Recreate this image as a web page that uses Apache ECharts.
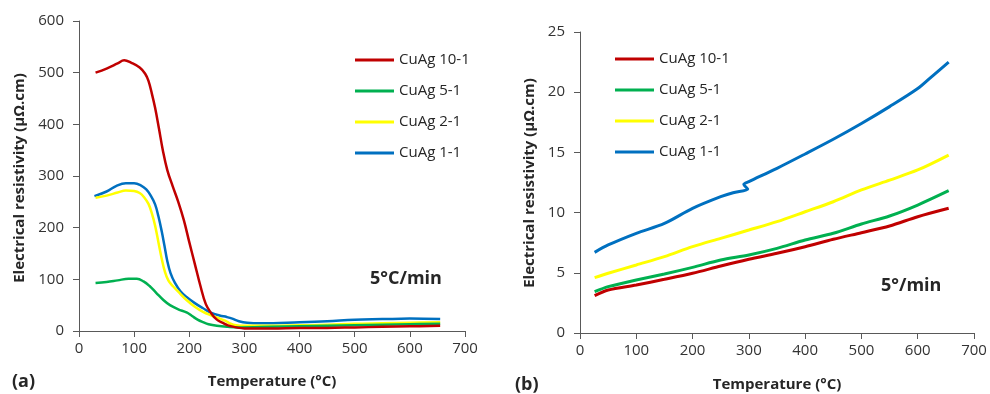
<!DOCTYPE html>
<html>
<head>
<meta charset="utf-8">
<script src="https://cdn.jsdelivr.net/npm/echarts@6/dist/echarts.min.js"></script>
<style>
  html, body { margin: 0; padding: 0; background: #fff; }
  #chart { width: 990px; height: 394px; }
</style>
</head>
<body>
<div id="chart"></div>
<script>
// Series names and colours
const seriesNames = ['CuAg 10-1', 'CuAg 5-1', 'CuAg 2-1', 'CuAg 1-1'];
const seriesColors = ['#C00000', '#00B050', '#FFFF00', '#0070C0'];

// (a) resistivity during the first heating, [temperature °C, µΩ.cm]
const a_cuag10_1 = [[30,500],[50,508],[70,518],[82,524],[95,519],[110,510],[120,498],[126,484],[132,460],[138,432],[145,392],[152,350],[160,312],[170,280],[180,250],[190,215],[200,172],[210,130],[220,88],[230,52],[240,34],[250,22],[260,16],[270,11],[285,7],[300,5],[350,5],[400,6],[450,6],[500,7],[550,8],[600,9],[655,10]];
const a_cuag5_1 = [[30,93],[50,95],[70,98],[90,101],[105,101],[117,96],[128,87],[140,74],[153,60],[165,50],[180,42],[195,36],[205,29],[215,22],[225,17],[235,13],[250,10],[270,8],[290,7],[350,8],[400,9],[450,10],[500,11],[550,12],[600,13],[655,14]];
const a_cuag2_1 = [[30,258],[50,262],[70,268],[85,272],[100,271],[110,267],[118,259],[126,246],[132,228],[138,204],[144,172],[150,140],[156,114],[162,98],[170,87],[180,76],[195,60],[210,47],[225,37],[240,30],[255,24],[265,20],[275,14],[285,11],[300,10],[350,10],[400,11],[450,12],[500,14],[550,15],[600,16],[655,17]];
const a_cuag1_1 = [[28,261],[50,270],[68,281],[85,286],[100,286],[112,282],[122,274],[130,262],[138,245],[144,222],[150,193],[155,165],[160,136],[166,112],[174,93],[184,77],[195,66],[210,54],[225,44],[240,35],[255,30],[268,27],[278,24],[290,19],[305,16],[330,15],[400,17],[450,19],[500,22],[550,23],[600,24],[655,23]];

// (b) resistivity after annealing, [temperature °C, µΩ.cm]
const b_cuag10_1 = [[26,3.1],[50,3.57],[100,3.99],[150,4.46],[200,4.96],[250,5.56],[300,6.12],[350,6.62],[400,7.17],[450,7.78],[500,8.33],[550,8.89],[600,9.66],[655,10.36]];
const b_cuag5_1 = [[26,3.43],[50,3.85],[100,4.4],[150,4.9],[200,5.45],[250,6.06],[300,6.48],[350,7.03],[400,7.72],[450,8.28],[500,9.05],[550,9.72],[600,10.63],[655,11.82]];
const b_cuag2_1 = [[26,4.6],[50,4.96],[100,5.65],[150,6.34],[200,7.17],[250,7.86],[300,8.55],[350,9.25],[400,10.07],[450,10.9],[500,11.88],[550,12.7],[600,13.54],[655,14.78]];
const b_cuag1_1 = [[26,6.7],[50,7.31],[100,8.28],[150,9.1],[200,10.35],[250,11.32],[272,11.65],[298,11.95],[291,12.35],[300,12.57],[350,13.68],[400,14.87],[450,16.09],[500,17.4],[550,18.8],[600,20.3],[625,21.3],[655,22.5]];

// Axis ticks
const tempTicks = { min: 0, max: 700, interval: 100 };
const aResTicks = { min: 0, max: 600, interval: 100 };
const bResTicks = { min: 0, max: 25, interval: 5 };

const FONT = 'Open Sans';
const axisColor = '#595959';
const textColor = '#333333';

function xAxisCfg(gridIndex, t) {
  return {
    type: 'value', gridIndex, min: t.min, max: t.max, interval: t.interval,
    axisLine: { show: true, onZero: false, lineStyle: { color: axisColor, width: 1 } },
    axisTick: { show: true, inside: false, length: 6, lineStyle: { color: axisColor } },
    splitLine: { show: false },
    axisLabel: { color: textColor, fontFamily: FONT, fontSize: 15, margin: 10 }
  };
}
function yAxisCfg(gridIndex, t) {
  return {
    type: 'value', gridIndex, min: t.min, max: t.max, interval: t.interval,
    axisLine: { show: true, lineStyle: { color: axisColor, width: 1 } },
    axisTick: { show: true, inside: false, length: 6, lineStyle: { color: axisColor } },
    splitLine: { show: false },
    axisLabel: { color: textColor, fontFamily: FONT, fontSize: 15, margin: 15 }
  };
}

const aData = [a_cuag10_1, a_cuag5_1, a_cuag2_1, a_cuag1_1];
const bData = [b_cuag10_1, b_cuag5_1, b_cuag2_1, b_cuag1_1];

const series = [];
aData.forEach((d, i) => series.push({
  name: seriesNames[i], type: 'line', xAxisIndex: 0, yAxisIndex: 0,
  data: d, showSymbol: false, smooth: 0.4, z: 10 - i,
  lineStyle: { color: seriesColors[i], width: 2.5 }, itemStyle: { color: seriesColors[i] }
}));
bData.forEach((d, i) => series.push({
  name: seriesNames[i], type: 'line', xAxisIndex: 1, yAxisIndex: 1,
  data: d, showSymbol: false, smooth: 0.3,
  lineStyle: { color: seriesColors[i], width: 3 }, itemStyle: { color: seriesColors[i] }
}));

function legendCfg(left, top) {
  return {
    orient: 'vertical', left, top, data: seriesNames,
    icon: 'rect', itemWidth: 39, itemHeight: 3, itemGap: 13,
    textStyle: { color: '#262626', fontFamily: FONT, fontSize: 15, lineHeight: 18 },
    selectedMode: false
  };
}

const titleStyle = { fill: '#262626', fontFamily: FONT, fontWeight: 'bold', fontSize: 15 };

const option = {
  animation: false,
  backgroundColor: '#fff',
  grid: [
    { left: 79, right: 525, top: 21, bottom: 63 },
    { left: 580, right: 16, top: 32, bottom: 61 }
  ],
  xAxis: [xAxisCfg(0, tempTicks), xAxisCfg(1, tempTicks)],
  yAxis: [yAxisCfg(0, aResTicks), yAxisCfg(1, bResTicks)],
  legend: [legendCfg(350, 46), legendCfg(610, 45)],
  series,
  graphic: [
    { type: 'text', x: 20, y: 178, rotation: Math.PI / 2,
      style: Object.assign({ text: 'Electrical resistivity (µΩ.cm)', align: 'center', verticalAlign: 'middle' }, titleStyle) },
    { type: 'text', x: 530, y: 183, rotation: Math.PI / 2,
      style: Object.assign({ text: 'Electrical resistivity (µΩ.cm)', align: 'center', verticalAlign: 'middle' }, titleStyle) },
    { type: 'text', x: 272, y: 382,
      style: Object.assign({ text: 'Temperature (°C)', align: 'center', verticalAlign: 'middle' }, titleStyle) },
    { type: 'text', x: 777, y: 385,
      style: Object.assign({ text: 'Temperature (°C)', align: 'center', verticalAlign: 'middle' }, titleStyle) },
    { type: 'text', x: 12, y: 382,
      style: { text: '(a)', fill: '#262626', fontFamily: FONT, fontWeight: 'bold', fontSize: 18, verticalAlign: 'middle' } },
    { type: 'text', x: 515, y: 385,
      style: { text: '(b)', fill: '#262626', fontFamily: FONT, fontWeight: 'bold', fontSize: 18, verticalAlign: 'middle' } },
    { type: 'text', x: 370, y: 279,
      style: { text: '5°C/min', fill: '#262626', fontFamily: FONT, fontWeight: 'bold', fontSize: 18, verticalAlign: 'middle' } },
    { type: 'text', x: 881, y: 286,
      style: { text: '5°/min', fill: '#262626', fontFamily: FONT, fontWeight: 'bold', fontSize: 18, verticalAlign: 'middle' } }
  ]
};

const chart = echarts.init(document.getElementById('chart'), null, { renderer: 'canvas' });
chart.setOption(option);
</script>
</body>
</html>
